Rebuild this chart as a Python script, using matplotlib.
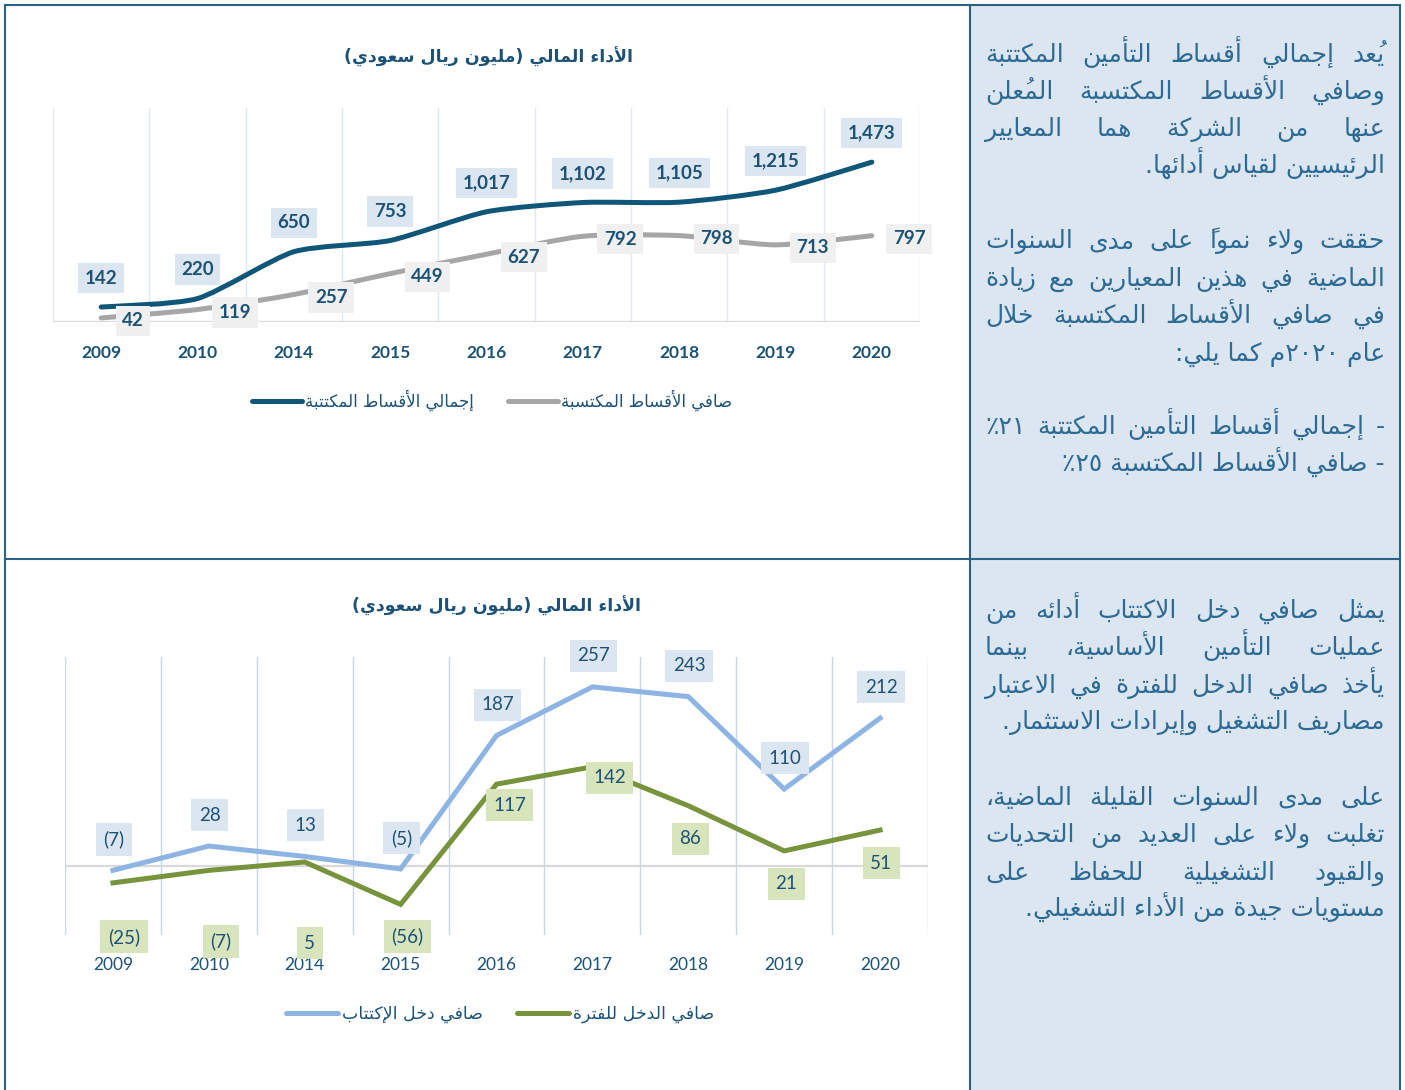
import numpy as np
import matplotlib
matplotlib.use("Agg")
import matplotlib.pyplot as plt
from matplotlib.path import Path
from matplotlib.patches import PathPatch, Rectangle
from matplotlib.lines import Line2D

# ---- data ----
years = ['2009', '2010', '2014', '2015', '2016', '2017', '2018', '2019', '2020']
gross_written = [142, 220, 650, 753, 1017, 1102, 1105, 1215, 1473]
net_earned = [42, 119, 257, 449, 627, 792, 798, 713, 797]
underwriting_income = [-7, 28, 13, -5, 187, 257, 243, 110, 212]
net_income = [-25, -7, 5, -56, 117, 142, 86, 21, 51]

chart_title = 'الأداء المالي (مليون ريال سعودي)'
top_legend = ['إجمالي الأقساط المكتتبة', 'صافي الأقساط المكتسبة']
bottom_legend = ['صافي دخل الإكتتاب', 'صافي الدخل للفترة']

para_1 = ['يُعد إجمالي أقساط التأمين المكتتبة', 'وصافي الأقساط المكتسبة المُعلن',
          'عنها من الشركة هما المعايير', 'الرئيسيين لقياس أدائها.']
para_2 = ['حققت ولاء نمواً على مدى السنوات', 'الماضية في هذين المعيارين مع زيادة',
          'في صافي الأقساط المكتسبة خلال', 'عام ٢٠٢٠م كما يلي:']
bullets = ['- إجمالي أقساط التأمين المكتتبة ٢١٪', '- صافي الأقساط المكتسبة ٢٥٪']
para_3 = ['يمثل صافي دخل الاكتتاب أدائه من', 'عمليات التأمين الأساسية، بينما',
          'يأخذ صافي الدخل للفترة في الاعتبار', 'مصاريف التشغيل وإيرادات الاستثمار.']
para_4 = ['على مدى السنوات القليلة الماضية،', 'تغلبت ولاء على العديد من التحديات',
          'والقيود التشغيلية للحفاظ على', 'مستويات جيدة من الأداء التشغيلي.']

# ---- colours ----
TXT = '#1c5276'
GROSS_C = '#0f5678'
NET_C = '#a6a6a6'
UW_C = '#8db4e2'
NI_C = '#77933c'
PANEL_BG = '#dce6f0'
PANEL_TXT = '#2d6b95'
BORDER = '#2b6284'

plt.rcParams['font.family'] = ['Lato', 'DejaVu Sans']

# ---- minimal arabic shaping (presentation forms) + rtl ordering ----
DUAL = {'ئ': 0xFE89, 'ب': 0xFE8F, 'ت': 0xFE95, 'ث': 0xFE99, 'ج': 0xFE9D, 'ح': 0xFEA1,
        'خ': 0xFEA5, 'س': 0xFEB1, 'ش': 0xFEB5, 'ص': 0xFEB9, 'ض': 0xFEBD, 'ط': 0xFEC1,
        'ظ': 0xFEC5, 'ع': 0xFEC9, 'غ': 0xFECD, 'ف': 0xFED1, 'ق': 0xFED5, 'ك': 0xFED9,
        'ل': 0xFEDD, 'م': 0xFEE1, 'ن': 0xFEE5, 'ه': 0xFEE9, 'ي': 0xFEF1}
RIGHT = {'آ': 0xFE81, 'أ': 0xFE83, 'ؤ': 0xFE85, 'إ': 0xFE87, 'ا': 0xFE8D, 'ة': 0xFE93,
         'د': 0xFEA9, 'ذ': 0xFEAB, 'ر': 0xFEAD, 'ز': 0xFEAF, 'و': 0xFEED, 'ى': 0xFEEF}
LAMALEF = {'آ': 0xFEF5, 'أ': 0xFEF7, 'إ': 0xFEF9, 'ا': 0xFEFB}
MARKS = set(chr(c) for c in range(0x064B, 0x0653))
DIGITS = set('0123456789٠١٢٣٤٥٦٧٨٩')


def jtype(b):
    if b.startswith('LA') or b in RIGHT:
        return 'R'
    if b in DUAL:
        return 'D'
    if b == 'ء':
        return 'U'
    return 'X'


def shape(text):
    tokens = []
    for ch in text:
        if ch in MARKS and tokens:
            tokens[-1][1] += ch
        else:
            tokens.append([ch, ''])
    merged = []
    i = 0
    while i < len(tokens):
        b, m = tokens[i]
        if b == 'ل' and i + 1 < len(tokens) and tokens[i + 1][0] in LAMALEF:
            merged.append(['LA' + tokens[i + 1][0], m + tokens[i + 1][1]])
            i += 2
        else:
            merged.append([b, m])
            i += 1
    out = []
    for i, (b, m) in enumerate(merged):
        t = jtype(b)
        if t == 'X':
            out.append(b + m)
            continue
        prev_j = i > 0 and jtype(merged[i - 1][0]) == 'D' and t in 'DR'
        next_j = t == 'D' and i + 1 < len(merged) and jtype(merged[i + 1][0]) in 'DR'
        if b.startswith('LA'):
            g = LAMALEF[b[2]] + (1 if prev_j else 0)
        elif t == 'U':
            g = 0xFE80
        elif t == 'R':
            g = RIGHT[b] + (1 if prev_j else 0)
        else:
            base = DUAL[b]
            if prev_j and next_j:
                g = base + 3
            elif prev_j:
                g = base + 1
            elif next_j:
                g = base + 2
            else:
                g = base
        # mark goes in front of its letter so that it lands on top of it
        out.append(m + chr(g))
    return out


def rtl(text):
    runs = []
    for c in shape(text):
        num = c[-1] in DIGITS
        if num and runs and runs[-1][0]:
            runs[-1][1].append(c)
        else:
            runs.append([num, [c]])
    s = ''.join(''.join(r[1]) for r in reversed(runs))
    return s.translate(str.maketrans('()', ')('))


# ---- helpers ----
W, H = 1405, 1090


def fx(x):
    return x / W


def fy(y):
    return 1 - y / H


def smooth_curve(ax, xs, ys, **kw):
    # bezier through the points, a bit like excel's "smoothed line"
    pts = np.column_stack([xs, ys]).astype(float)
    ext = np.vstack([pts[0], pts, pts[-1]])
    verts, codes = [pts[0]], [Path.MOVETO]
    for i in range(len(pts) - 1):
        p0, p1, p2, p3 = ext[i], ext[i + 1], ext[i + 2], ext[i + 3]
        verts += [p1 + (p2 - p0) / 9, p2 - (p3 - p1) / 9, p2]
        codes += [Path.CURVE4] * 3
    ax.add_patch(PathPatch(Path(verts, codes), fill=False, **kw))


def fmt_paren(v):
    return f'({abs(v)})' if v < 0 else f'{v}'


def style_axes(ax, ylim, grid_c, tick_weight):
    x = np.arange(len(years))
    ax.set_xlim(-0.5, len(years) - 0.5)
    ax.set_ylim(*ylim)
    for s in ax.spines.values():
        s.set_visible(False)
    ax.set_yticks([])
    ax.set_xticks(x)
    ax.set_xticklabels(years, fontsize=12.5, fontweight=tick_weight, color=TXT)
    ax.tick_params(axis='x', length=0, pad=16)
    for gx in np.arange(-0.5, len(years), 1.0):
        ax.axvline(gx, color=grid_c, lw=1, zorder=0)
    ax.axhline(0, color='#d9d9d9', lw=1.6, zorder=1)
    ax.patch.set_visible(False)
    return x


def draw_top(fig):
    ax = fig.add_axes([fx(53), fy(322.5), fx(920) - fx(53), fy(108) - fy(322.5)])
    x = style_axes(ax, (0, 1970), '#e1e8f0', 'bold')
    smooth_curve(ax, x, net_earned, color=NET_C, lw=3.6, capstyle='round', zorder=3)
    smooth_curve(ax, x, gross_written, color=GROSS_C, lw=3.6, capstyle='round', zorder=4)
    for xi, v in zip(x, gross_written):
        ax.annotate(f'{v:,}', (xi, v), xytext=(0, 29), textcoords='offset pixels',
                    ha='center', va='center', fontsize=13.5, fontweight='bold', color=TXT,
                    bbox=dict(boxstyle='square,pad=0.35', fc='#dce6f1', ec='none'), zorder=6)
    for xi, v in zip(x, net_earned):
        ax.annotate(f'{v:,}', (xi, v), xytext=(21, -3), textcoords='offset pixels',
                    ha='left', va='center', fontsize=13.5, fontweight='bold', color=TXT,
                    bbox=dict(boxstyle='square,pad=0.35', fc='#f0f0f0', ec='none'), zorder=6)
    fig.text(fx(488), fy(57), rtl(chart_title), ha='center', va='center', fontsize=12.5,
             fontweight='bold', color=TXT, family='DejaVu Sans')
    handles = [Line2D([], [], color=GROSS_C, lw=3.6, solid_capstyle='round'),
               Line2D([], [], color=NET_C, lw=3.6, solid_capstyle='round')]
    fig.legend(handles, [rtl(t) for t in top_legend], loc='center', ncol=2,
               bbox_to_anchor=(fx(492), fy(400)), frameon=False, handlelength=3.0,
               handletextpad=0.2, columnspacing=2.0, labelcolor=TXT,
               prop={'family': 'DejaVu Sans', 'size': 12})


def draw_bottom(fig):
    ax = fig.add_axes([fx(65), fy(935), fx(928) - fx(65), fy(657) - fy(935)])
    x = style_axes(ax, (-100, 300), '#c6d6ec', 'normal')
    ax.plot(x, net_income, color=NI_C, lw=3.6, solid_joinstyle='miter', zorder=3)
    ax.plot(x, underwriting_income, color=UW_C, lw=3.6, solid_joinstyle='miter', zorder=4)
    for xi, v in zip(x, underwriting_income):
        ax.annotate(fmt_paren(v), (xi, v), xytext=(1, 31), textcoords='offset pixels',
                    ha='center', va='center', fontsize=13.5, color=TXT,
                    bbox=dict(boxstyle='square,pad=0.4', fc='#dce6f1', ec='none'), zorder=6)
    # net income labels were hand placed in the original
    ni_offsets = [(11, -54), (12, -71), (5, -81), (7, -32), (13, -21),
                  (17, -11), (2, -33), (2, -33), (1, -33)]
    for xi, v, off in zip(x, net_income, ni_offsets):
        ax.annotate(fmt_paren(v), (xi, v), xytext=off, textcoords='offset pixels',
                    ha='center', va='center', fontsize=13.5, color=TXT,
                    bbox=dict(boxstyle='square,pad=0.4', fc='#d8e4bc', ec='none'), zorder=6)
    fig.text(fx(497), fy(606), rtl(chart_title), ha='center', va='center', fontsize=12.5,
             fontweight='bold', color=TXT, family='DejaVu Sans')
    handles = [Line2D([], [], color=UW_C, lw=3.6, solid_capstyle='round'),
               Line2D([], [], color=NI_C, lw=3.6, solid_capstyle='round')]
    fig.legend(handles, [rtl(t) for t in bottom_legend], loc='center', ncol=2,
               bbox_to_anchor=(fx(500), fy(1014)), frameon=False, handlelength=3.0,
               handletextpad=0.2, columnspacing=2.0, labelcolor=TXT,
               prop={'family': 'DejaVu Sans', 'size': 12.5})


def draw_paragraph(fig, renderer, lines, baselines, justify_last=False, size=18):
    left, right = 985, 1385
    for k, (line, yb) in enumerate(zip(lines, baselines)):
        vis = rtl(line)
        last = k == len(lines) - 1
        if last and not justify_last:
            fig.text(fx(right), fy(yb), vis, ha='right', va='baseline', fontsize=size,
                     color=PANEL_TXT, family='DejaVu Sans')
            continue
        words = vis.split(' ')
        arts = [fig.text(0, 0, w, ha='left', va='baseline', fontsize=size,
                         color=PANEL_TXT, family='DejaVu Sans') for w in words]
        widths = [a.get_window_extent(renderer).width for a in arts]
        gap = (right - left - sum(widths)) / max(len(words) - 1, 1)
        xp = left
        for a, w in zip(arts, widths):
            a.set_position((fx(xp), fy(yb)))
            xp += w + gap


def main():
    fig = plt.figure(figsize=(W / 100, H / 100), dpi=100)

    # right hand panel and the table borders
    fig.add_artist(Rectangle((fx(970), 0), fx(1400) - fx(970), fy(5), transform=fig.transFigure,
                             fc=PANEL_BG, ec='none', zorder=0))
    for xs, ys in [([5, 5], [5, H]), ([5, 1400], [5, 5]), ([1400, 1400], [5, H]),
                   ([970, 970], [5, H]), ([5, 1400], [559, 559])]:
        fig.add_artist(Line2D([fx(v) for v in xs], [fy(v) for v in ys], transform=fig.transFigure,
                              color=BORDER, lw=1.5, zorder=2))

    draw_top(fig)
    draw_bottom(fig)

    renderer = fig.canvas.get_renderer()
    draw_paragraph(fig, renderer, para_1, [62, 99, 136, 173])
    draw_paragraph(fig, renderer, para_2, [248, 285.5, 323, 360.5])
    draw_paragraph(fig, renderer, bullets, [434, 471], justify_last=False)
    draw_paragraph(fig, renderer, para_3, [618, 655, 693, 729])
    draw_paragraph(fig, renderer, para_4, [805, 842, 880, 916])

    fig.savefig('out.png', dpi=100)
    plt.close(fig)


if __name__ == '__main__':
    main()
